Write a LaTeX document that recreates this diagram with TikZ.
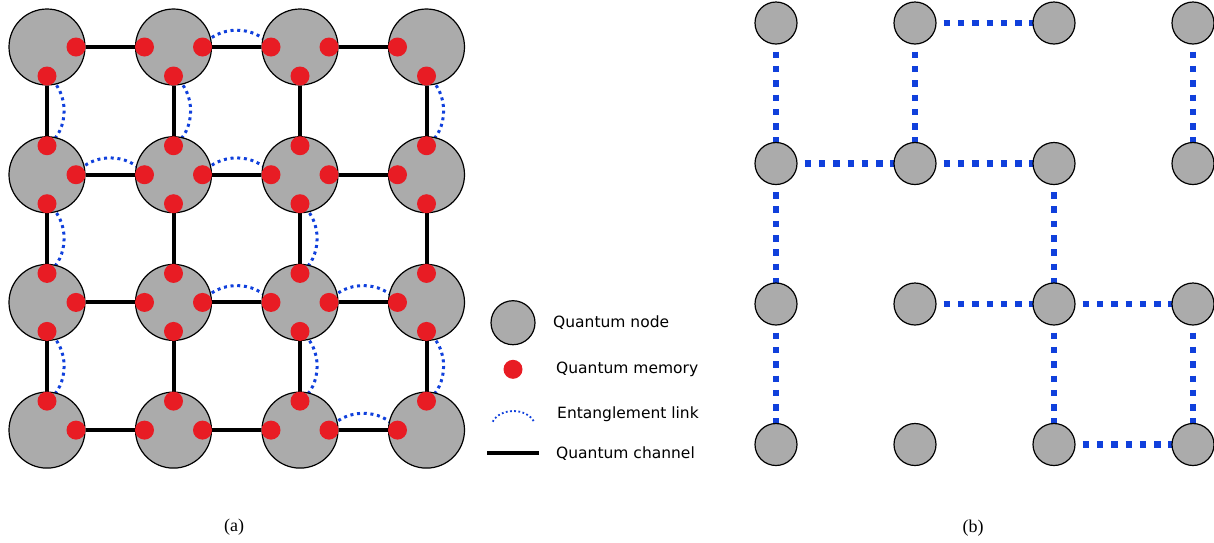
\documentclass[tikz,border=0pt]{standalone}
\usepackage{fontspec}
\newfontfamily\legfont{DejaVu Sans}
\newfontfamily\capfont{Liberation Serif}
\usetikzlibrary{calc,backgrounds}
\definecolor{nodegray}{RGB}{171,171,171}
\definecolor{memred}{RGB}{232,28,36}
\definecolor{linkblue}{RGB}{16,64,220}
\tikzset{
  qnode/.style={circle,draw=black,line width=1.2pt,fill=nodegray,minimum size=76pt,inner sep=0pt},
  snode/.style={circle,draw=black,line width=1.2pt,fill=nodegray,minimum size=42pt,inner sep=0pt},
  mem/.style={circle,fill=memred,minimum size=19pt,inner sep=0pt},
  chan/.style={line width=4pt,black},
  elink/.style={linkblue,line width=3pt,dash pattern=on 3pt off 3.7pt},
  blink/.style={linkblue,line width=6.5pt,dash pattern=on 6.5pt off 7.8pt},
  leglink/.style={linkblue,line width=1.8pt,dash pattern=on 1.8pt off 2.4pt},
  legtext/.style={anchor=west,inner sep=0pt,font=\legfont\fontsize{15.5}{18}\selectfont},
  captext/.style={inner sep=0pt,font=\capfont\fontsize{18}{21}\selectfont}
}
\begin{document}
\begin{tikzpicture}[x=1pt,y=-1pt]
\useasboundingbox (0,0) rectangle (1214,542);
% ---------- (a) ----------
\foreach \r in {1,...,4}{
  \foreach \c in {1,...,4}{
    \node[qnode] (a\r\c) at ({47+126.5*(\c-1)},{47+127.7*(\r-1)}) {};
  }
}
\foreach \r in {1,...,4}{
  \foreach \c in {1,...,4}{
    \ifnum\c<4 \node[mem] (a\r\c E) at ($(a\r\c.center)+(29,0)$) {};\fi
    \ifnum\c>1 \node[mem] (a\r\c W) at ($(a\r\c.center)+(-29,0)$) {};\fi
    \ifnum\r>1 \node[mem] (a\r\c N) at ($(a\r\c.center)+(0,-29)$) {};\fi
    \ifnum\r<4 \node[mem] (a\r\c S) at ($(a\r\c.center)+(0,29)$) {};\fi
  }
}
\begin{pgfonlayer}{background}
  \foreach \r in {1,...,4}{
    \foreach \c [evaluate=\c as \d using int(\c+1)] in {1,2,3}{
      \draw[chan] (a\r\c) -- (a\r\d);
      \draw[chan] (a\c\r) -- (a\d\r);
    }
  }
  % vertical entanglement links (upper node r,c)
  \foreach \r/\c [evaluate=\r as \s using int(\r+1)] in {1/1,1/2,1/4,2/1,2/3,3/1,3/3,3/4}{
    \draw[elink] (a\r\c S.center) to[bend left=57] (a\s\c N.center);
  }
  % horizontal entanglement links (left node r,c)
  \foreach \r/\c [evaluate=\c as \d using int(\c+1)] in {1/2,2/1,2/2,3/2,3/3,4/3}{
    \draw[elink] (a\r\c E.center) to[bend left=57] (a\r\d W.center);
  }
\end{pgfonlayer}
% ---------- legend ----------
\node[qnode,minimum size=44pt] (lnode) at (513,322.7) {};
\node[mem] (lmem) at (513,369.3) {};
\coordinate (ll1) at (492.7,421.7);
\coordinate (ll2) at (534,421.7);
\draw[leglink] (ll1) to[bend left=62] (ll2);
\coordinate (lc1) at (487.3,453.3);
\coordinate (lc2) at (539.3,453.3);
\draw[chan] (lc1) -- (lc2);
\node[legtext] (t1) at (553,322.7) {Quantum node};
\node[legtext] (t2) at (556,369.3) {Quantum memory};
\node[legtext] (t3) at (557,414) {Entanglement link};
\node[legtext] (t4) at (556,453.3) {Quantum channel};
% ---------- (b) ----------
\foreach \r in {1,...,4}{
  \foreach \c in {1,...,4}{
    \node[snode] (b\r\c) at ({776+139*(\c-1)},{23+140.5*(\r-1)}) {};
  }
}
\begin{pgfonlayer}{background}
  \foreach \r/\c [evaluate=\r as \s using int(\r+1)] in {1/1,1/2,1/4,2/1,2/3,3/1,3/3,3/4}{
    \draw[blink] (b\r\c.center) -- (b\s\c.center);
  }
  \foreach \r/\c [evaluate=\c as \d using int(\c+1)] in {1/2,2/1,2/2,3/2,3/3,4/3}{
    \draw[blink] (b\r\c.center) -- (b\r\d.center);
  }
\end{pgfonlayer}
% ---------- captions ----------
\node[captext] (capa) at (234,527) {(a)};
\node[captext] (capb) at (973,528) {(b)};
\end{tikzpicture}
\end{document}
